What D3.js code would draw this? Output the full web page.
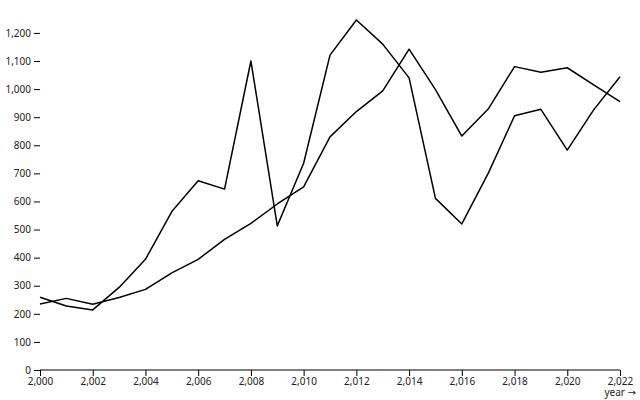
<!DOCTYPE html>
<html>
<head>
<meta charset="utf-8">
<script src="https://cdn.jsdelivr.net/npm/d3@7"></script>
<style>
  body { margin: 0; background: #fff; }
  svg { font-family: "Noto Sans", sans-serif; font-size: 10px; }
</style>
</head>
<body>
<div id="chart"></div>
<script>
// values
const years = [2000, 2001, 2002, 2003, 2004, 2005, 2006, 2007, 2008, 2009, 2010, 2011,
  2012, 2013, 2014, 2015, 2016, 2017, 2018, 2019, 2020, 2021, 2022]
const seriesA = [259, 228, 214, 294, 394, 564, 674, 644, 1100, 513, 736, 1121,
  1246, 1160, 1040, 611, 520, 700, 905, 928, 783, 926, 1044]
const seriesB = [235, 255, 234, 258, 287, 346, 394, 465, 522, 591, 652, 830,
  920, 994, 1142, 998, 833, 929, 1080, 1060, 1076, 1015, 955]
const yTicks = [0, 100, 200, 300, 400, 500, 600, 700, 800, 900, 1000, 1100, 1200]
const xTicks = [2000, 2002, 2004, 2006, 2008, 2010, 2012, 2014, 2016, 2018, 2020, 2022]

const width = 640, height = 400
const margin = { top: 20, right: 20, bottom: 30, left: 40 }

const x = d3.scaleLinear()
  .domain(d3.extent(years))
  .range([margin.left, width - margin.right])
const y = d3.scaleLinear()
  .domain([0, d3.max([...seriesA, ...seriesB])])
  .range([height - margin.bottom, margin.top])

const fmt = d3.format(',')

const svg = d3.select('#chart').append('svg')
  .attr('width', width)
  .attr('height', height)
  .attr('viewBox', [0, 0, width, height])

// y axis: ticks + labels, no domain line
const yAxis = svg.append('g')
  .attr('transform', `translate(${margin.left},0)`)
  .call(d3.axisLeft(y).tickValues(yTicks).tickFormat(fmt).tickSize(6).tickPadding(3))
yAxis.select('.domain').remove()
yAxis.selectAll('text').attr('fill', '#222').style('font-size', '10px').style('font-family', '"Noto Sans", sans-serif')

// x axis
const xAxis = svg.append('g')
  .attr('transform', `translate(0,${height - margin.bottom})`)
  .call(d3.axisBottom(x).tickValues(xTicks).tickFormat(fmt).tickSize(6).tickPadding(2))
xAxis.select('.domain').remove()
xAxis.selectAll('text').attr('fill', '#222').style('font-size', '10px').style('font-family', '"Noto Sans", sans-serif')

const xLabel = xAxis.append('text')
  .attr('x', width - 4)
  .attr('y', 26)
  .attr('fill', '#222')
  .attr('text-anchor', 'end')
  .style('font-size', '10px')
  .style('font-family', '"Noto Sans", sans-serif')
xLabel.append('tspan').text('year ')
xLabel.append('tspan').style('font-family', '"DejaVu Sans", sans-serif').text('→')

// rule at zero
svg.append('line')
  .attr('x1', x(years[0]))
  .attr('x2', x(years[years.length - 1]))
  .attr('y1', y(0))
  .attr('y2', y(0))
  .attr('stroke', '#000')

const line = d3.line()
  .x((d, i) => x(years[i]))
  .y(d => y(d))

svg.selectAll('path.series')
  .data([seriesA, seriesB])
  .join('path')
  .attr('class', 'series')
  .attr('fill', 'none')
  .attr('stroke', '#000')
  .attr('stroke-width', 1.5)
  .attr('stroke-linejoin', 'round')
  .attr('d', line)
</script>
</body>
</html>
